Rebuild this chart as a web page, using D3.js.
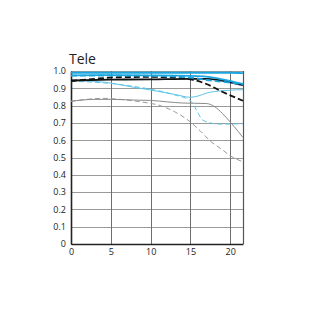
<!DOCTYPE html>
<html lang="en">
<head>
<meta charset="UTF-8">
<title>Tele MTF</title>
<script src="https://d3js.org/d3.v7.min.js"></script>
<style>
  body { margin: 0; background: #fff; }
  .grid line { shape-rendering: crispEdges; }
  text { font-family: "Open Sans", "DejaVu Sans", sans-serif; }
</style>
</head>
<body>
<div id="chart"></div>
<script>
// image height (mm) vs contrast
const xTicks = [0, 5, 10, 15, 20];
const yTicks = [0, 0.1, 0.2, 0.3, 0.4, 0.5, 0.6, 0.7, 0.8, 0.9, 1.0];

const cyanTop = [[0, 0.99], [10, 0.99], [20, 0.99], [21.6, 0.988]];
const cyanSolid = [[0, 0.975], [5, 0.976], [10, 0.975], [15, 0.972], [17, 0.968], [19, 0.952], [21.6, 0.925]];
const cyanDash = [[0, 0.973], [5, 0.974], [10, 0.972], [15, 0.962], [17, 0.948], [19, 0.938], [21.6, 0.923]];
const blackSolid = [[0, 0.945], [5, 0.95], [10, 0.952], [15, 0.955], [17, 0.955], [18.5, 0.948], [20, 0.935], [21.6, 0.918]];
const blackDash = [[0, 0.942], [3, 0.955], [6, 0.964], [10, 0.966], [13, 0.962], [15, 0.952], [17, 0.925], [19, 0.88], [21.6, 0.828]];
const cyanThin = [[0, 0.945], [3, 0.94], [5, 0.93], [8, 0.905], [10, 0.89], [13, 0.865], [15, 0.848], [16, 0.856], [17, 0.872], [19, 0.886], [21.6, 0.892]];
const cyanThinDash = [[0, 0.94], [3, 0.935], [5, 0.928], [8, 0.91], [10, 0.895], [13, 0.862], [15, 0.828], [15.8, 0.77], [16.5, 0.718], [17.5, 0.7], [18.5, 0.693], [21.6, 0.695]];
const graySolid = [[0, 0.825], [3, 0.836], [5, 0.836], [8, 0.832], [10, 0.83], [12, 0.822], [14, 0.815], [17, 0.812], [18, 0.795], [19, 0.755], [20, 0.705], [21, 0.65], [21.6, 0.615]];
const grayDash = [[0, 0.825], [2, 0.836], [4, 0.842], [6.6, 0.834], [9, 0.82], [11.2, 0.8], [13, 0.765], [15, 0.705], [16.2, 0.655], [17.5, 0.595], [19, 0.545], [20, 0.51], [21.6, 0.475]];

const W = 320, H = 320;
const margin = { top: 71, right: 77, bottom: 76, left: 71 };
const iw = W - margin.left - margin.right;
const ih = H - margin.top - margin.bottom;

const svg = d3.select("#chart").append("svg")
  .attr("width", W).attr("height", H);
const g = svg.append("g").attr("transform", `translate(${margin.left},${margin.top})`);

const x = d3.scaleLinear().domain([0, 21.6]).range([0, iw]);
const y = d3.scaleLinear().domain([0, 1]).range([ih, 0]);

// grid
g.append("g").attr("class", "grid")
  .selectAll("line").data(yTicks).join("line")
  .attr("x1", 0).attr("x2", iw)
  .attr("y1", d => Math.round(y(d)) + 0.5).attr("y2", d => Math.round(y(d)) + 0.5)
  .attr("stroke", "#9a9a9a").attr("stroke-width", 1.2);
g.append("g").attr("class", "grid")
  .selectAll("line").data(xTicks.slice(1)).join("line")
  .attr("x1", d => Math.round(x(d)) + 0.5).attr("x2", d => Math.round(x(d)) + 0.5)
  .attr("y1", 0).attr("y2", ih)
  .attr("stroke", "#6e6e6e").attr("stroke-width", 1.2);
g.append("line").attr("x1", iw + 0.5).attr("x2", iw + 0.5).attr("y1", 0).attr("y2", ih)
  .attr("stroke", "#555").attr("stroke-width", 1.2);

// axes
const xAxis = g.append("g").attr("transform", `translate(0,${ih})`)
  .call(d3.axisBottom(x).tickValues(xTicks).tickSize(0).tickPadding(5));
const yAxis = g.append("g")
  .call(d3.axisLeft(y).tickValues(yTicks).tickSize(0).tickPadding(5)
    .tickFormat(d => d === 0 ? "0" : d3.format(".1f")(d)));
[xAxis, yAxis].forEach(a => {
  a.select(".domain").attr("stroke", "#222").attr("stroke-width", 1.6);
  a.selectAll("text").attr("font-size", 9).attr("fill", "#222")
    .style("font-family", "'Open Sans', 'DejaVu Sans', sans-serif");
});

const line = d3.line().x(d => x(d[0])).y(d => y(d[1])).curve(d3.curveMonotoneX);

const series = [
  { data: grayDash, color: "#9a9a9a", w: 1, dash: "5,3" },
  { data: graySolid, color: "#8a8a8a", w: 1, dash: null },
  { data: cyanThinDash, color: "#5cc6e6", w: 1, dash: "5,3" },
  { data: cyanThin, color: "#5cc6e6", w: 1, dash: null },
  { data: blackDash, color: "#111", w: 1.8, dash: "6,3" },
  { data: blackSolid, color: "#111", w: 1.8, dash: null },
  { data: cyanDash, color: "#1aa6e0", w: 1.8, dash: "6,3" },
  { data: cyanSolid, color: "#1aa6e0", w: 1.8, dash: null },
  { data: cyanTop, color: "#1aa6e0", w: 1.8, dash: null }
];

g.selectAll("path.series").data(series).join("path")
  .attr("class", "series")
  .attr("d", d => line(d.data))
  .attr("fill", "none")
  .attr("stroke", d => d.color)
  .attr("stroke-width", d => d.w)
  .attr("stroke-dasharray", d => d.dash);

svg.append("text").attr("x", 69).attr("y", 64)
  .attr("font-size", 14).attr("fill", "#222").text("Tele");
</script>
</body>
</html>
